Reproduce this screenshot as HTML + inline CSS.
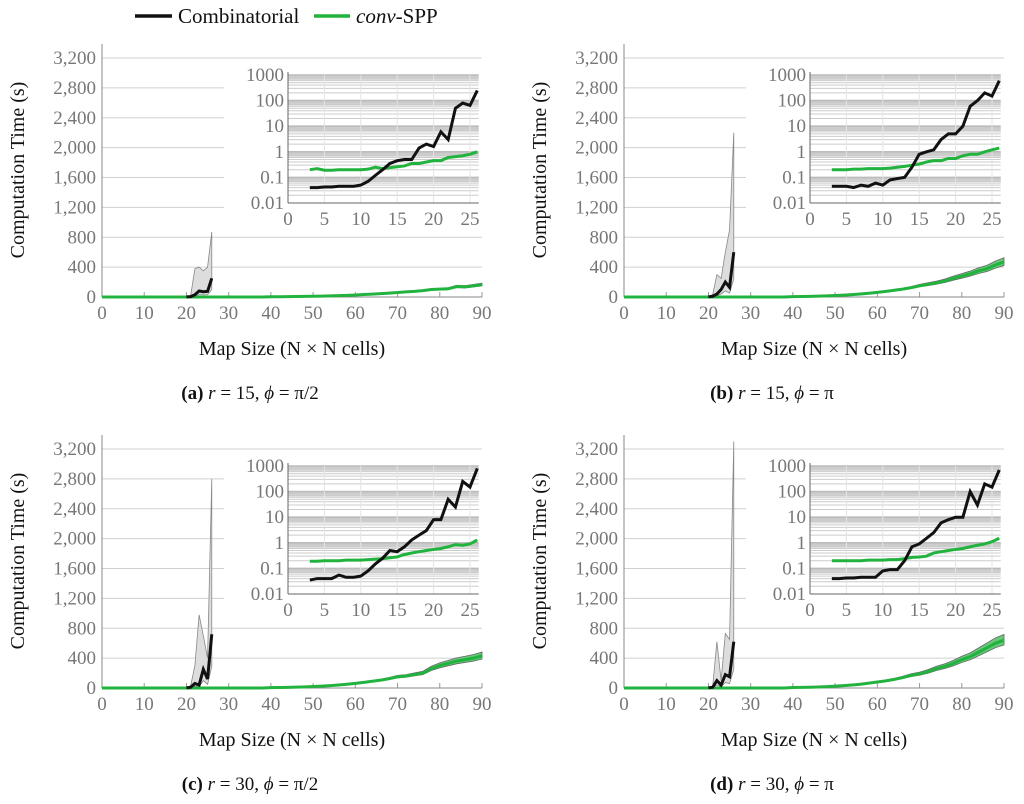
<!DOCTYPE html>
<html><head><meta charset="utf-8">
<style>
body{margin:0;background:#fff;}
svg, svg text{font-family:"Liberation Serif","DejaVu Serif",serif;}
svg{display:block;}
</style></head>
<body>
<svg id="fig" width="1024" height="804" viewBox="0 0 1024 804" font-family="Liberation Serif, DejaVu Serif, serif">
<g>
<line x1="135" y1="16" x2="172" y2="16" stroke="#111" stroke-width="3.5"/>
<text x="178" y="23" font-size="21" fill="#111">Combinatorial</text>
<line x1="314" y1="16" x2="350" y2="16" stroke="#22b33f" stroke-width="3.5"/>
<text x="356" y="23" font-size="21" fill="#111"><tspan font-style="italic">conv</tspan>-SPP</text>
</g>
</svg>
<script>
const mainX = [0,2,4,6,8,10,12,14,16,18,20,22,24,26,28,30,32,34,36,38,40,42,44,46,48,50,52,54,56,58,60,62,64,66,68,70,72,74,76,78,80,82,84,86,88,90];
const convA = [0,0,0,0,0,0,0,0,0,0,0,0,0,0,0,0,0,0,0,0,3,4,5,6,8,10,12,15,18,22,27,33,38,45,52,60,68,75,85,100,105,110,140,135,150,165];
const convB = [0,0,0,0,0,0,0,0,0,0,0,0,0,0,0,0,0,0,0,0,5,7,9,12,15,20,25,32,40,50,62,75,90,105,125,150,170,190,215,250,280,310,350,380,430,470];
const convC = [0,0,0,0,0,0,0,0,0,0,0,0,0,0,0,0,0,0,0,0,5,7,9,12,15,20,25,32,40,50,62,75,90,105,125,150,160,180,200,260,300,330,360,380,400,430];
const convD = [0,0,0,0,0,0,0,0,0,0,0,0,0,0,0,0,0,0,0,0,6,8,10,14,18,25,32,40,50,65,80,95,115,140,170,190,220,260,290,330,380,420,480,540,600,640];
const combX = [20,21,22,23,24,25,26];
const combA = [2,5,30,80,70,75,250];
const combAUp = [5,20,380,400,350,400,870];
const combB = [2,10,40,100,200,130,600];
const combBUp = [5,30,300,250,600,900,2200];
const combC = [2,10,60,40,250,120,720];
const combCUp = [5,30,300,980,700,400,2800];
const combD = [2,10,100,40,180,150,620];
const combDUp = [5,20,620,100,730,650,3300];
const insetX = [3,4,5,6,7,8,9,10,11,12,13,14,15,16,17,18,19,20,21,22,23,24,25,26];
const inCombA = [.04,.04,.042,.042,.045,.045,.045,.05,.07,.12,.2,.35,.45,.5,.5,1.4,2,1.6,6,3,50,80,65,250];
const inConvA = [.2,.22,.19,.19,.2,.2,.2,.2,.21,.25,.22,.24,.26,.28,.35,.35,.4,.45,.45,.6,.65,.7,.8,1.0];
const inCombB = [.045,.045,.045,.04,.05,.045,.06,.05,.08,.09,.1,.25,.8,1,1.2,3,5,5,10,60,100,200,150,600];
const inConvB = [.2,.2,.2,.21,.21,.22,.22,.22,.23,.25,.27,.3,.33,.4,.45,.45,.55,.55,.7,.8,.8,1,1.2,1.4];
const inCombC = [.035,.04,.04,.04,.055,.045,.045,.05,.08,.15,.25,.5,.45,.7,1.3,2,3,8,8,50,25,250,150,800];
const inConvC = [.19,.19,.2,.2,.2,.21,.21,.21,.22,.23,.24,.26,.28,.35,.4,.45,.5,.55,.6,.7,.85,.8,.9,1.3];
const inCombD = [.04,.04,.042,.042,.045,.045,.045,.08,.09,.09,.2,.7,.9,1.5,2.5,6,8,10,10,100,30,200,150,700];
const inConvD = [.2,.2,.2,.2,.2,.21,.21,.21,.22,.22,.24,.27,.28,.3,.4,.45,.5,.55,.6,.7,.8,.9,1.1,1.5];
const yTicks = [0,400,800,1200,1600,2000,2400,2800,3200];
const yTickLabels = ["0","400","800","1,200","1,600","2,000","2,400","2,800","3,200"];
const xTicks = [0,10,20,30,40,50,60,70,80,90];
const insetYTicks = [0.01,0.1,1,10,100,1000];
const insetYLabels = ["0.01","0.1","1","10","100","1000"];
const insetXTicks = [0,5,10,15,20,25];

const panels = [
 {id:"a",ox:0,oy:0,conv:convA,comb:combA,up:combAUp,ic:inCombA,iv:inConvA,cap:['(a)','15','π/2']},
 {id:"b",ox:522,oy:0,conv:convB,comb:combB,up:combBUp,ic:inCombB,iv:inConvB,cap:['(b)','15','π']},
 {id:"c",ox:0,oy:391,conv:convC,comb:combC,up:combCUp,ic:inCombC,iv:inConvC,cap:['(c)','30','π/2']},
 {id:"d",ox:522,oy:391,conv:convD,comb:combD,up:combDUp,ic:inCombD,iv:inConvD,cap:['(d)','30','π']}
];
const svg=document.getElementById('fig');
const NS="http://www.w3.org/2000/svg";
const FF='Liberation Serif, DejaVu Serif, serif';
function mk(tag,attrs,parent){const e=document.createElementNS(NS,tag);for(const k in attrs)e.setAttribute(k,attrs[k]);if(tag==='text')e.setAttribute('font-family',FF);(parent||svg).appendChild(e);return e;}
function pts(xs,ys,fx,fy){return xs.map((x,i)=>fx(x)+","+fy(ys[i])).join(" ");}

panels.forEach(p=>{
 const g=mk('g',{});
 
 
 const X=v=>p.ox+102+v*(380/90);
 const Y=v=>p.oy+297-v*(239/3200);
 yTicks.forEach((t,i)=>{
  const l=mk('line',{x1:X(0),x2:X(90),y1:Y(t),y2:Y(t),stroke:'#d0d0d0','stroke-width':1},g);
  
  
  const tx=mk('text',{x:X(0)-6,y:Y(t)+6,'text-anchor':'end','font-size':19,fill:'#777'},g);
  tx.textContent=yTickLabels[i];
  
  
 });
 xTicks.forEach(t=>{
  mk('line',{x1:X(t),x2:X(t),y1:Y(0),y2:Y(0)-5,stroke:'#999'},g);
  const tx=mk('text',{x:X(t),y:Y(0)+22,'text-anchor':'middle','font-size':19,fill:'#777'},g);
  tx.textContent=t;
  
  
 });
 mk('line',{x1:X(0),x2:X(0),y1:p.oy+44,y2:Y(0),stroke:'#888'},g);
 mk('line',{x1:X(0),x2:X(90),y1:Y(0),y2:Y(0),stroke:'#888'},g);
 const band=mk('polygon',{points:pts(combX,p.up,X,Y)+" "+pts(combX.slice().reverse(),p.comb.map(v=>v*0.4).reverse(),X,Y),fill:'#ddd',stroke:'#888','stroke-width':0.8},g);
 
 
 const cb=mk('polygon',{points:pts(mainX,p.conv.map(v=>v*1.12),X,Y)+" "+pts(mainX.slice().reverse(),p.conv.map(v=>v*0.9).reverse(),X,Y),fill:'#66c97a',stroke:'#666','stroke-width':0.8},g);
 
 
 const cl=mk('polyline',{points:pts(mainX,p.conv,X,Y),fill:'none',stroke:'#22b33f','stroke-width':3},g);
 
 
 const bl=mk('polyline',{points:pts(combX,p.comb,X,Y),fill:'none',stroke:'#111','stroke-width':3},g);
 
 
 const yl=mk('text',{x:0,y:0,'text-anchor':'middle','font-size':20,fill:'#111',transform:`translate(${p.ox+24},${p.oy+170}) rotate(-90)`},g);
 yl.textContent='Computation Time (s)';
 
 
 const xl=mk('text',{x:p.ox+292,y:p.oy+355,'text-anchor':'middle','font-size':20,fill:'#111'},g);
 xl.textContent='Map Size (N × N cells)';
 
 
 const cap=mk('text',{x:p.ox+250,y:p.oy+399,'text-anchor':'middle','font-size':19,fill:'#111'},g);
 cap.innerHTML=`<tspan font-weight="bold">${p.cap[0]}</tspan> <tspan font-style="italic">r</tspan> = ${p.cap[1]}, <tspan font-style="italic">ϕ</tspan> = ${p.cap[2]}`;
 
 
 const ig=mk('g',{},g);
 
 
 mk('rect',{x:p.ox+224,y:p.oy+63,width:262,height:168,fill:'#fff'},ig);
 const IX=v=>p.ox+288+v*(182/25);
 const IY=v=>p.oy+203-(Math.log10(v)+2)*(128/5);
 for(let d=-2;d<3;d++){for(let k=2;k<=10;k++){const v=k*Math.pow(10,d);
  mk('line',{x1:IX(0),x2:IX(26.2),y1:IY(v),y2:IY(v),stroke:k==10?'#bbb':'#ccc','stroke-width':k>=7?1.6:1},ig);}}
 insetXTicks.forEach(t=>{
  mk('line',{x1:IX(t),x2:IX(t),y1:IY(0.01),y2:IY(1000),stroke:'#e4e4e4'},ig);
  const tx=mk('text',{x:IX(t),y:p.oy+225,'text-anchor':'middle','font-size':19,fill:'#777'},ig);
  tx.textContent=t;
  
  
 });
 insetYTicks.forEach((t,i)=>{
  const tx=mk('text',{x:IX(0)-4,y:IY(t)+6,'text-anchor':'end','font-size':19,fill:'#777'},ig);
  tx.textContent=insetYLabels[i];
  
  
 });
 mk('line',{x1:IX(0),x2:IX(0),y1:IY(1000)-3,y2:IY(0.01),stroke:'#666'},ig);
 mk('line',{x1:IX(0),x2:IX(26.2),y1:IY(0.01),y2:IY(0.01),stroke:'#666'},ig);
 const il1=mk('polyline',{points:pts(insetX,p.iv,IX,IY),fill:'none',stroke:'#22b33f','stroke-width':3},ig);
 
 
 const il2=mk('polyline',{points:pts(insetX,p.ic,IX,IY),fill:'none',stroke:'#111','stroke-width':3},ig);
 
 
});
</script>
</body></html>
